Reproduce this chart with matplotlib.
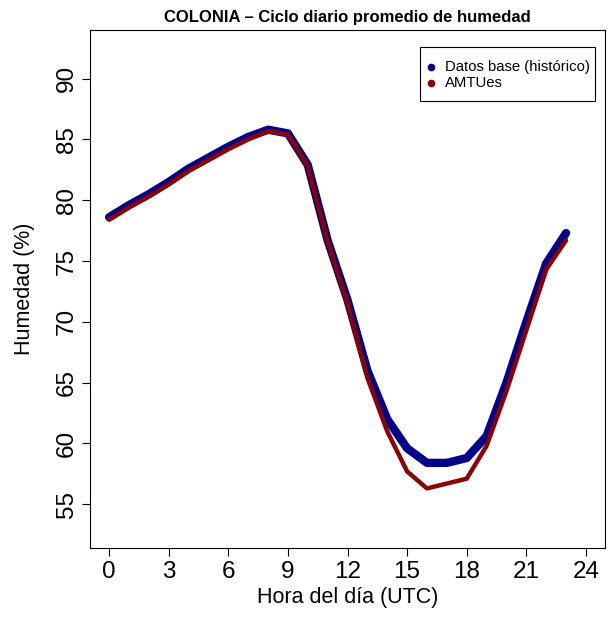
import matplotlib
matplotlib.use("Agg")
import matplotlib.pyplot as plt
from matplotlib.patches import Rectangle

plt.rcParams['font.family'] = ['Liberation Sans', 'DejaVu Sans']

hours = list(range(24))
base = [78.6, 79.6, 80.5, 81.5, 82.6, 83.5, 84.4, 85.2, 85.8, 85.5, 82.9, 76.7,
        71.8, 66.0, 62.0, 59.6, 58.4, 58.4, 58.8, 60.6, 65.0, 70.0, 74.8, 77.3]
amtu = [78.4, 79.4, 80.3, 81.3, 82.4, 83.3, 84.2, 85.0, 85.7, 85.4, 82.8, 76.6,
        71.5, 65.4, 61.0, 57.7, 56.3, 56.7, 57.1, 59.8, 64.3, 69.3, 74.3, 76.7]
xticks = [0, 3, 6, 9, 12, 15, 18, 21, 24]
yticks = [55, 60, 65, 70, 75, 80, 85, 90]

title = "COLONIA – Ciclo diario promedio de humedad"
labels = ["Datos base (histórico)", "AMTUes"]
colors = ["#00008B", "#8B0000"]

W, H = 608, 617
fig = plt.figure(figsize=(W/100, H/100), dpi=100)
ax = fig.add_axes([90/W, 1-548/H, (605-90)/W, (548-30)/H])

ax.plot(hours, base, color=colors[0], lw=6.0, solid_capstyle='round', solid_joinstyle='round')
ax.plot(hours, amtu, color=colors[1], lw=3.2, solid_capstyle='round', solid_joinstyle='round')

ax.set_xlim(-0.96, 24.96)
ax.set_ylim(51.4, 94.0)
ax.set_xticks(xticks)
ax.set_yticks(yticks)
ax.tick_params(axis='both', direction='out', length=6, width=0.8, labelsize=17.5, pad=3)
for lab in ax.get_yticklabels():
    lab.set_rotation(90)
    lab.set_va('center')
for s in ax.spines.values():
    s.set_linewidth(0.8)

ax.set_xlabel("Hora del día (UTC)", fontsize=15.5, labelpad=3)
ax.set_ylabel("Humedad (%)", fontsize=15.5, labelpad=15)
ax.set_title(title, fontsize=12, fontweight='bold', pad=6)

# legend (drawn in figure pixel positions, R style)
def fx(px):
    return px / W
def fy(py):
    return 1 - py / H

fig.patches.append(Rectangle((fx(419.5), fy(101)), fx(595) - fx(419.5), fy(46.5) - fy(101),
                             transform=fig.transFigure, fill=False, edgecolor='black', lw=0.8))
for i, (lab, c) in enumerate(zip(labels, colors)):
    yy = 66.7 + i * 16.7
    fig.lines.append(plt.Line2D([fx(431)], [fy(yy)], transform=fig.transFigure, marker='o',
                                markersize=4.5, color=c, linestyle='none'))
    fig.text(fx(445), fy(yy), lab, fontsize=10.7, va='center', ha='left')

fig.savefig("out.png", dpi=100)
